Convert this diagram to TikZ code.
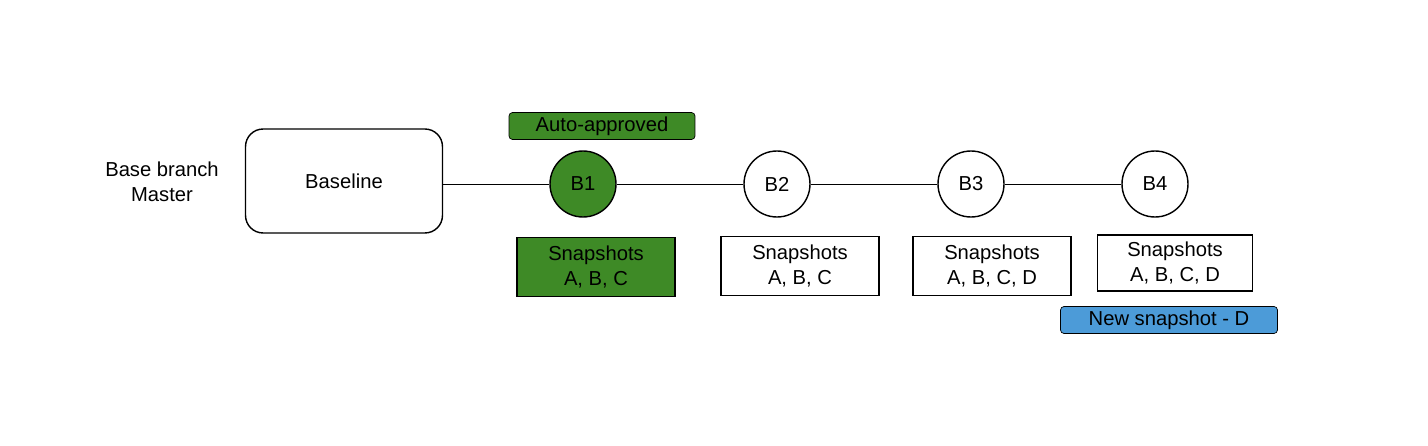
\documentclass[tikz,border=0pt]{standalone}
\usepackage{fontspec}
\setmainfont{Liberation Sans}
\definecolor{okgreen}{HTML}{3E8A26}
\definecolor{newblue}{HTML}{4C9BD8}
\tikzset{
  build/.style={draw, thick, circle, minimum size=1.32cm, inner sep=0pt},
  snap/.style={draw, thick, minimum width=3.16cm, minimum height=1.18cm, align=center, inner sep=1pt},
  tag/.style={draw, rounded corners=2pt, minimum height=0.54cm, inner sep=2pt}
}
\begin{document}
\begin{tikzpicture}[x=0.02cm, y=-0.02cm, font=\fontsize{11.5}{14}\selectfont]
  \useasboundingbox (0,0) rectangle (1428,446);
  \node[align=center] (branch) at (162,182) {Base branch\\Master};
  \node[draw, thick, rounded corners=10pt, minimum width=3.94cm, minimum height=2.08cm] (base) at (344,181) {Baseline};
  \node[build, fill=okgreen] (b1) at (583,184) {B1};
  \node[build] (b2) at (777,184) {B2};
  \node[build] (b3) at (971,184) {B3};
  \node[build] (b4) at (1155,184) {B4};
  \draw (base.east |- b1) -- (b1) -- (b2) -- (b3) -- (b4);
  % labels and snapshot lists
  \node[tag, fill=okgreen, minimum width=3.72cm] (auto) at (602,126) {Auto-approved};
  \node[snap, fill=okgreen] (s1) at (596,267) {Snapshots\\A, B, C};
  \node[snap] (s2) at (800,266) {Snapshots\\A, B, C};
  \node[snap] (s3) at (992,266) {Snapshots\\A, B, C, D};
  \node[snap, minimum width=3.1cm, minimum height=1.12cm] (s4) at (1175,263) {Snapshots\\A, B, C, D};
  \node[tag, fill=newblue, minimum width=4.34cm] (new) at (1169,320) {New snapshot - D};
\end{tikzpicture}
\end{document}
